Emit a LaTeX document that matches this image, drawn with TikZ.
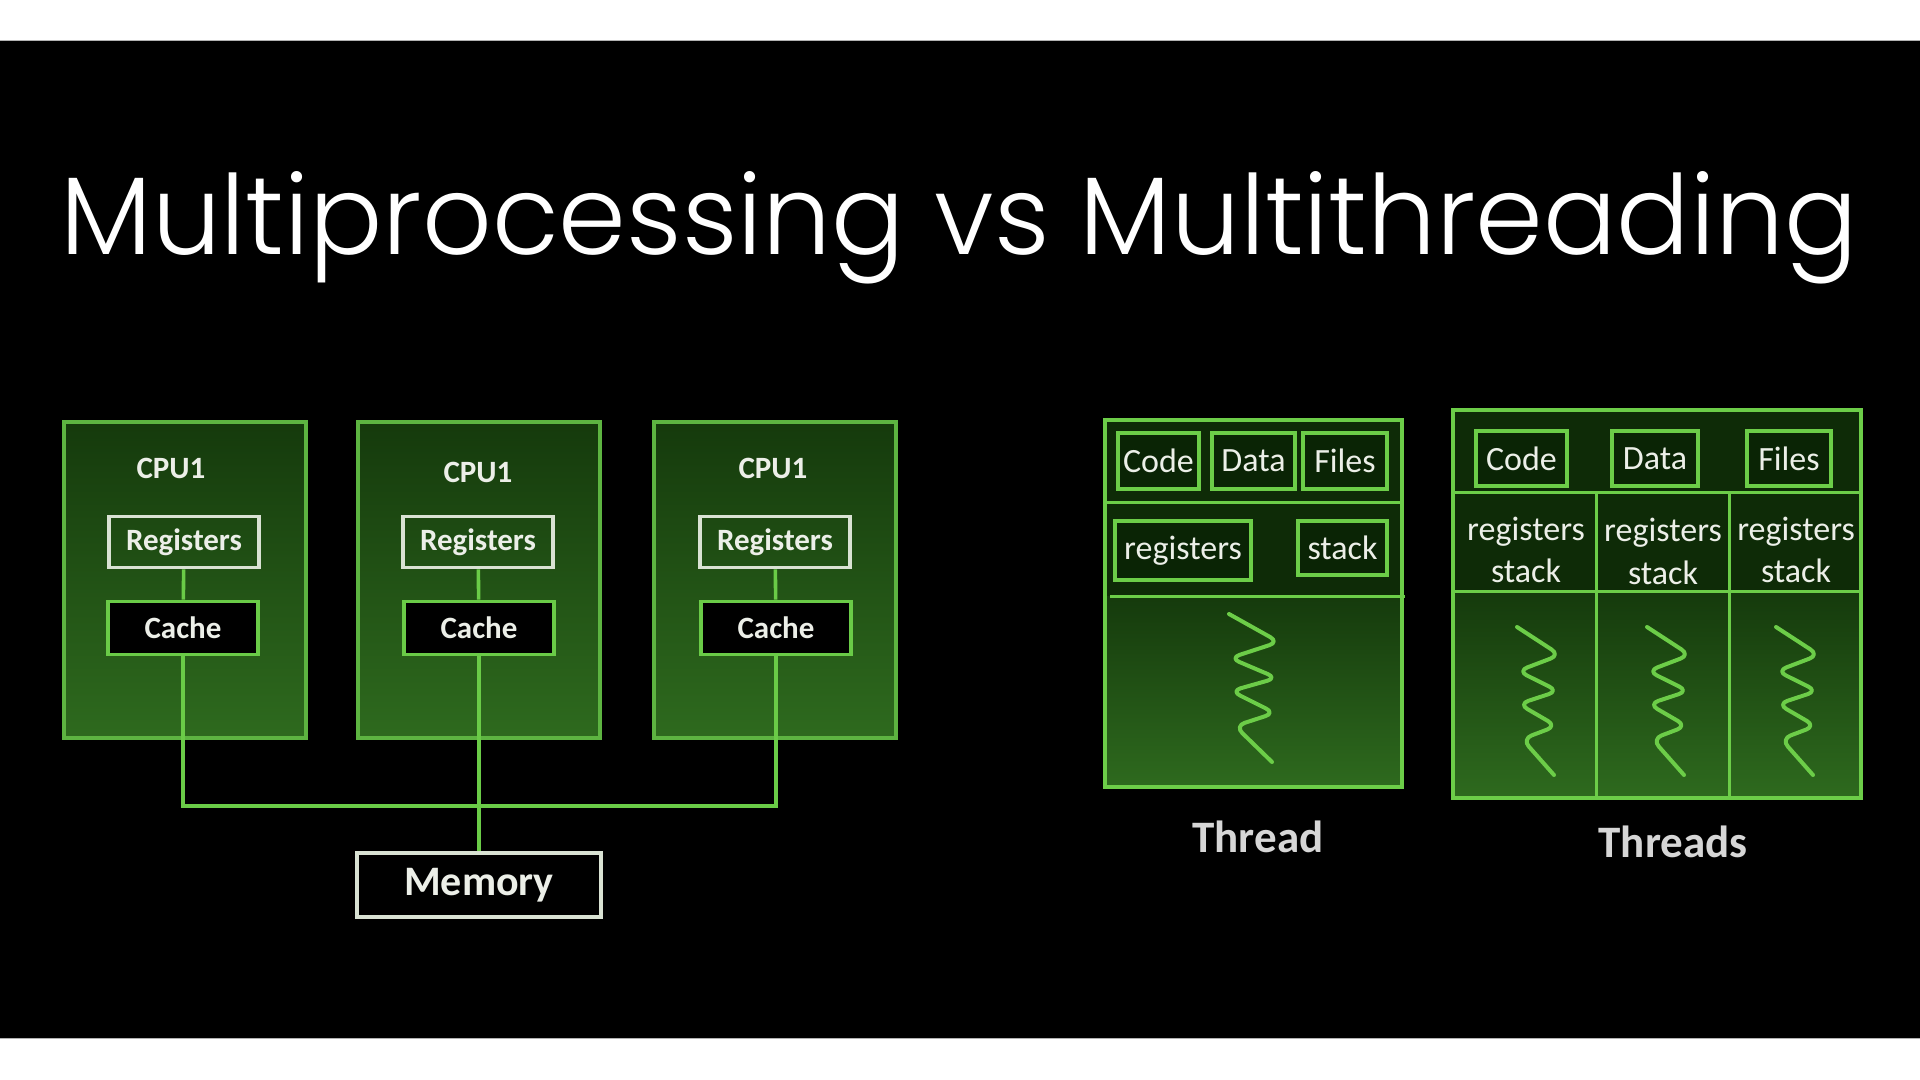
\documentclass[tikz,border=0pt]{standalone}
\usepackage{fontspec}
\setmainfont{Carlito}
\IfFontExistsTF{Poppins Light}{\newfontfamily\titlefont{Poppins Light}}{\newfontfamily\titlefont{Poppins}}
\usepackage{graphicx}
\definecolor{gline}{HTML}{6ACB47}
\definecolor{gborder}{HTML}{5DB441}
\definecolor{gtop}{HTML}{153A0C}
\definecolor{gbot}{HTML}{2E6A1E}
\definecolor{tdark}{HTML}{0E2B07}
\definecolor{tinner}{HTML}{0A2405}
\definecolor{tbright}{HTML}{6CCD48}
\definecolor{txt}{HTML}{ECEFE8}
\definecolor{regb}{HTML}{D9E2D3}
\definecolor{labg}{HTML}{D6D6D6}
\tikzset{
  cpubox/.style={draw=gborder, line width=2pt, shade, top color=gtop, bottom color=gbot, minimum width=121pt, minimum height=158pt, inner sep=0pt},
  cpulab/.style={font=\fontsize{15.5}{16}\selectfont\bfseries, text=txt, inner sep=0pt},
  regbox/.style={draw=regb, line width=1.8pt, minimum width=75pt, minimum height=25.5pt, inner sep=0pt, font=\fontsize{15.5}{16}\selectfont\bfseries, text=txt},
  cachebox/.style={draw=gline, fill=black, line width=1.8pt, minimum width=75pt, minimum height=26.5pt, inner sep=0pt, font=\fontsize{15.5}{16}\selectfont\bfseries, text=txt},
  membox/.style={draw=regb, fill=black, line width=1.8pt, minimum width=122pt, minimum height=32pt, inner sep=0pt, font=\fontsize{21}{22}\selectfont\bfseries, text=txt},
  gl/.style={draw=gline, line width=1.8pt},
  tframe/.style={draw=tbright, line width=2pt, inner sep=0pt},
  tsep/.style={draw=tbright, line width=1.5pt},
  ibox/.style={draw=tbright, fill=tinner, line width=1.8pt, inner sep=0pt, font=\fontsize{17}{18}\selectfont, text=txt},
  ttxt/.style={font=\fontsize{17}{18}\selectfont, text=txt, inner sep=0pt},
  lab/.style={font=\fontsize{22.5}{24}\selectfont\bfseries, text=labg, inner sep=0pt},
  thr/.style={draw=tbright, line width=2pt, rounded corners=5pt, line cap=round, line join=round},
  zz/.pic={\draw[thr] (0,0) -- (50,28) -- (1,44) -- (48,64) -- (2,77) -- (46,99) -- (6,112) -- (43,148);}
}
\begin{document}
\begin{tikzpicture}[x=0.5pt,y=-0.5pt]
\useasboundingbox (0,0) rectangle (1920,1080);
\fill[white] (0,0) rectangle (1920,1080);
\fill[black] (0,41) rectangle (1920,1038);
\draw[gray!60, line width=0.5pt] (0,41) -- (1920,41) (0,1038) -- (1920,1038);

% title
\node[anchor=base west, inner sep=0pt, text=white] (title) at (60,255)
  {\resizebox{898.5pt}{41.5pt}{\titlefont Multiprocessing vs Multithreading}};

% CPU boxes
\node[cpubox] (cpu1) at (185,580) {};
\node[cpubox] (cpu2) at (479,580) {};
\node[cpubox] (cpu3) at (775,580) {};
\node[cpulab, anchor=base] (l1) at (171,478) {CPU1};
\node[cpulab, anchor=base] (l2) at (478,482) {CPU1};
\node[cpulab, anchor=base] (l3) at (773,478) {CPU1};
\node[regbox] (reg1) at (184,542) {Registers};
\node[regbox] (reg2) at (478,542) {Registers};
\node[regbox] (reg3) at (775,542) {Registers};
\node[cachebox] (cache1) at (183,628) {Cache};
\node[cachebox] (cache2) at (479,628) {Cache};
\node[cachebox] (cache3) at (776,628) {Cache};
\node[membox] (mem) at (479,885) {Memory};
\coordinate (bus) at (479,806);
\draw[gl] (reg1) -- (cache1);
\draw[gl] (reg2) -- (cache2);
\draw[gl] (reg3) -- (cache3);
\draw[gl] (cache1.south) |- (bus) -| (cache3.south);
\draw[gl] (cache2.south) -- (mem.north);

% single thread
\fill[tdark] (1105,420) rectangle (1402,596);
\shade[top color=gtop, bottom color=gbot] (1105,596) rectangle (1402,787);
\node[tframe, minimum width=148.5pt, minimum height=183.5pt] (tbox) at (1253.5,603.5) {};
\draw[tsep] (tbox.west |- 0,502) -- (tbox.east |- 0,502);
\draw[tsep] (1110,596) -- (1405,596);
\node[ibox, minimum width=40.5pt, minimum height=28pt] (tc) at (1158.5,461) {Code};
\node[ibox, minimum width=41.5pt, minimum height=28pt] (td) at (1253.5,461) {Data};
\node[ibox, minimum width=42pt, minimum height=28pt] (tf) at (1345,461) {Files};
\node[ibox, minimum width=68pt, minimum height=29.5pt] (tr) at (1183,550.5) {registers};
\node[ibox, minimum width=44.5pt, minimum height=27pt] (ts) at (1342.5,548) {stack};
\pic at (1229,614) {zz};
\node[lab, anchor=base] (thread) at (1258,852) {Thread};

% threads
\fill[tdark] (1453,410) rectangle (1861,591);
\shade[top color=gtop, bottom color=gbot] (1453,591) rectangle (1861,798);
\node[tframe, minimum width=204pt, minimum height=194pt] (tsbox) at (1657,604) {};
\draw[tsep] (1453,492) -- (1861,492);
\draw[tsep] (1453,591) -- (1861,591);
\draw[tsep] (1596,492) -- (1596,798);
\draw[tsep] (1729,492) -- (1729,798);
\node[ibox, minimum width=45.5pt, minimum height=27.5pt] (sc) at (1521.5,458.5) {Code};
\node[ibox, minimum width=43pt, minimum height=27.5pt] (sd) at (1655,458.5) {Data};
\node[ibox, minimum width=42pt, minimum height=27.5pt] (sf) at (1789,458.5) {Files};
\node[ttxt, anchor=base] (r1) at (1526,540) {registers};
\node[ttxt, anchor=base] (r2) at (1663,541) {registers};
\node[ttxt, anchor=base] (r3) at (1796,540) {registers};
\node[ttxt, anchor=base] (s1) at (1526,582) {stack};
\node[ttxt, anchor=base] (s2) at (1663,584) {stack};
\node[ttxt, anchor=base] (s3) at (1796,582) {stack};
\pic[xscale=0.86] at (1517,627) {zz};
\pic[xscale=0.86] at (1647,627) {zz};
\pic[xscale=0.86] at (1776,627) {zz};
\node[lab, anchor=base] (threads) at (1673,857) {Threads};
\end{tikzpicture}
\end{document}
